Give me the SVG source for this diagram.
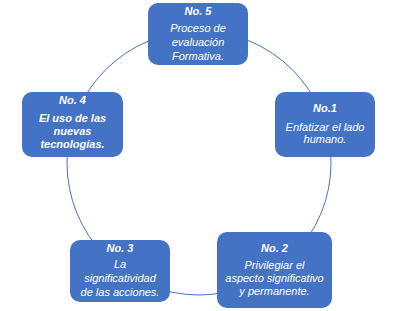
<svg xmlns="http://www.w3.org/2000/svg" width="394" height="311" viewBox="0 0 394 311">
<style>
.box{fill:#4472C4;stroke:none}
.t{font-family:"Liberation Sans",Arial,sans-serif;font-size:11px;font-style:italic;fill:#FFFFFF;text-anchor:middle}
.b{font-weight:bold}
.c{fill:none;stroke:#4472C4;stroke-width:1}
</style>
<rect width="394" height="311" fill="#FFFFFF"/>
<g id="connectors">
<circle class="c" cx="199" cy="163" r="132"/>
</g>
<g id="node5">
<rect class="box" x="148" y="3" width="100" height="62" rx="10"/>
<text class="t b" x="198" y="15">No. 5</text>
<text class="t" x="198" y="32">Proceso de</text>
<text class="t" x="198" y="46">evaluación</text>
<text class="t" x="198" y="60">Formativa.</text>
</g>
<g id="node1">
<rect class="box" x="275" y="92" width="100" height="65" rx="10"/>
<text class="t b" x="325" y="112">No.1</text>
<text class="t" x="325" y="131">Enfatizar el lado</text>
<text class="t" x="325" y="143">humano.</text>
</g>
<g id="node2">
<rect class="box" x="217" y="232" width="115" height="76" rx="10"/>
<text class="t b" x="274.5" y="252">No. 2</text>
<text class="t" x="274.5" y="269">Privilegiar el</text>
<text class="t" x="274.5" y="282">aspecto significativo</text>
<text class="t" x="274.5" y="295">y permanente.</text>
</g>
<g id="node3">
<rect class="box" x="70" y="240" width="100" height="62" rx="10"/>
<text class="t b" x="120" y="252">No. 3</text>
<text class="t" x="120" y="268">La</text>
<text class="t" x="120" y="282">significatividad</text>
<text class="t" x="120" y="296">de las acciones.</text>
</g>
<g id="node4">
<rect class="box" x="22" y="92" width="101" height="65" rx="10"/>
<text class="t b" x="72.5" y="104">No. 4</text>
<text class="t b" x="72.5" y="122">El uso de las</text>
<text class="t b" x="72.5" y="135">nuevas</text>
<text class="t b" x="72.5" y="148">tecnologías.</text>
</g>
</svg>
